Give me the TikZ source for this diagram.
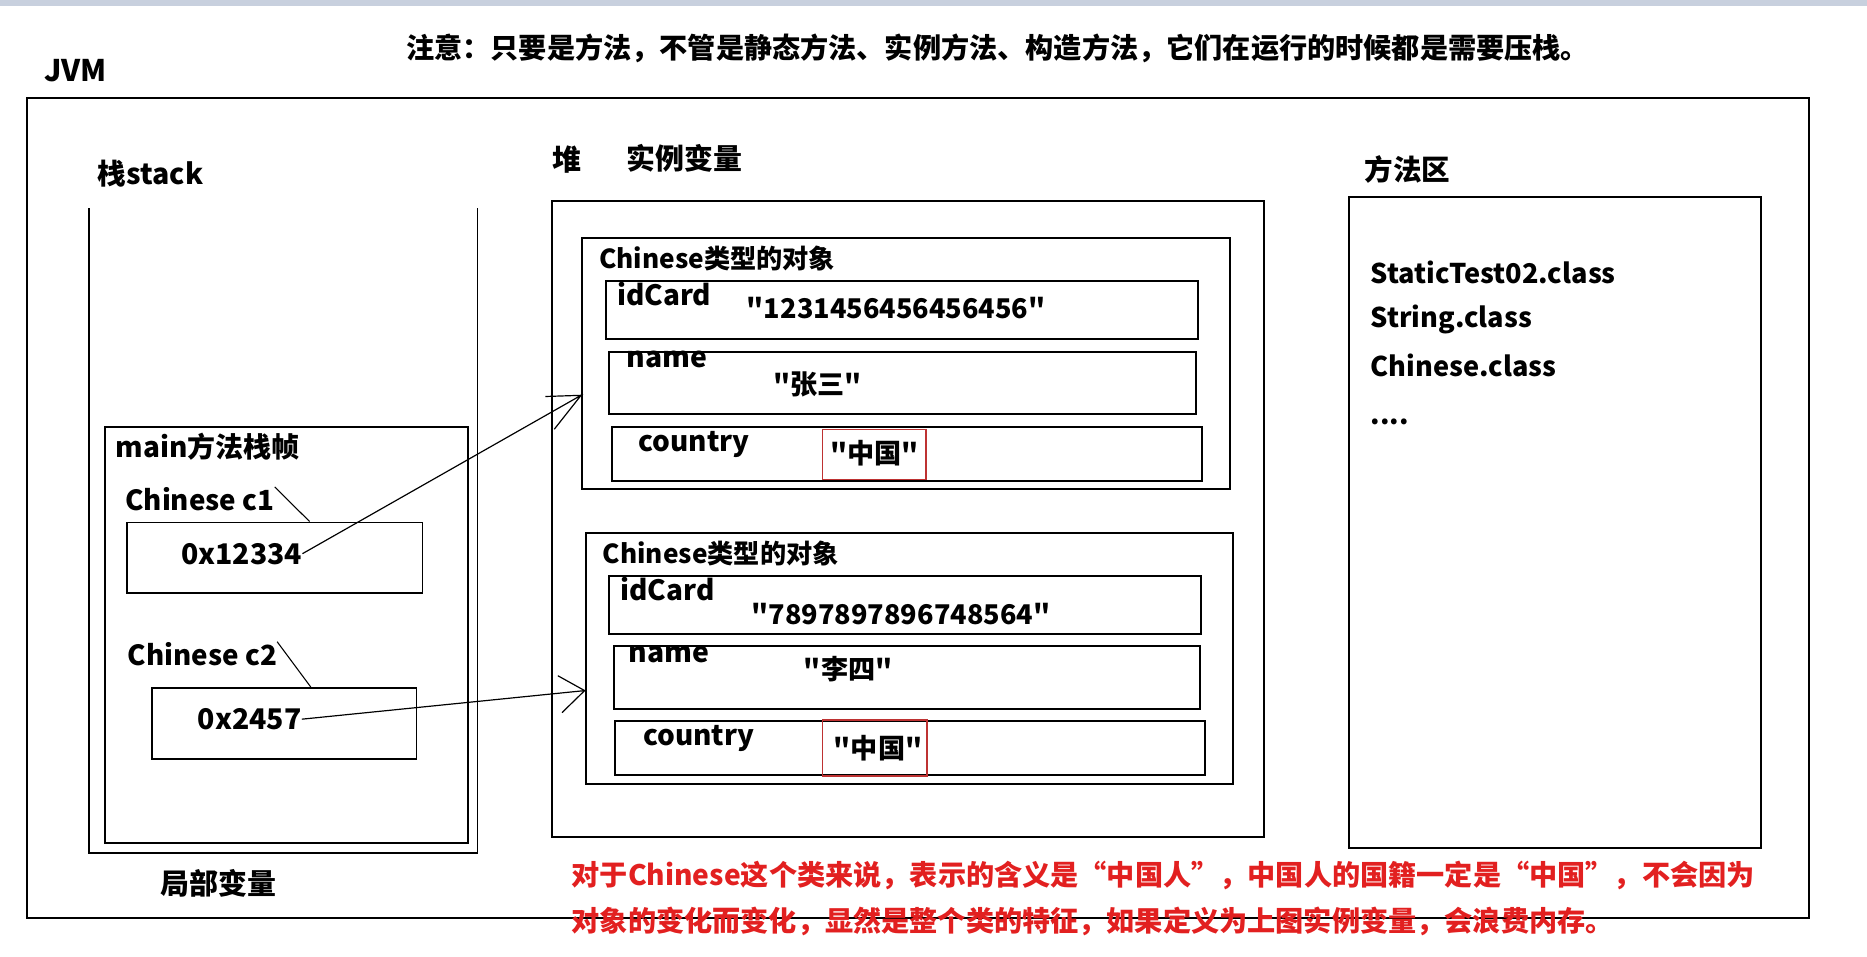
\documentclass[tikz,border=0pt]{standalone}
\usepackage{fontspec}
\newfontfamily\cjk{Noto Sans CJK SC}
\usetikzlibrary{arrows.meta,calc}
\definecolor{topbar}{RGB}{200,208,222}
\definecolor{redtxt}{RGB}{226,32,32}
\definecolor{redframe}{RGB}{190,50,50}
\tikzset{
  box/.style={draw, line width=1.6pt, inner sep=0pt, anchor=north west},
  rbox/.style={draw=redframe, line width=1.2pt, inner sep=0pt, anchor=north west},
  lbl/.style={inner sep=0pt, anchor=west, font=\cjk\bfseries\fontsize{#1}{#1}\selectfont},
  lbl/.default=23.5,
  val/.style={lbl=22.8},
  redlbl/.style={lbl=23.65, text=redtxt},
  ptr/.style={line width=1pt},
  thin/.style={line width=0.9pt}
}
\begin{document}
\begin{tikzpicture}[x=1pt,y=-1pt]
\useasboundingbox (0,0) rectangle (1568,803.7);
\fill[topbar] (0,0) rectangle (1568,5);
% title and JVM
\node[lbl=23.65] (title) at (341,41) {注意：只要是方法，不管是静态方法、实例方法、构造方法，它们在运行的时候都是需要压栈。};
\node[lbl=25] (jvmlbl) at (37,59) {JVM};
\node[box, minimum width=1497pt, minimum height=689pt] (jvm) at (21.5,81.5) {};
% stack
\node[lbl=24] (stacklbl) at (82,146) {栈stack};
\coordinate (stl) at (75,175);
\coordinate (str) at (401,175);
\draw[line width=1.6pt] (stl) -- (75,716) -- (401,716) -- (str);
\node[lbl=24.3] (locallbl) at (135,742) {局部变量};
\node[box, minimum width=305pt, minimum height=349pt] (frame) at (87.5,358) {};
\node[lbl] (framelbl) at (97,375) {main方法栈帧};
\node[lbl=23.3] (c1lbl) at (105,419) {Chinese c1};
\node[box, minimum width=248pt, minimum height=59pt] (c1box) at (106,438) {};
\node[lbl=23.9] (addr1) at (152,465) {0x12334};
\node[lbl=23.3] (c2lbl) at (107,549) {Chinese c2};
\node[box, minimum width=222pt, minimum height=60pt] (c2box) at (127,577) {};
\node[lbl=23.9] (addr2) at (166,604) {0x2457};
\draw[thin] (c1lbl.north east) -- ($(c1box.north west)+(154,0)$);
\draw[thin] (c2lbl.north east) -- ($(c2box.north west)+(134,0)$);
% heap
\node[lbl=24.3] (heaplbl) at (464,134) {堆};
\node[lbl=24.3] (instlbl) at (526,133) {实例变量};
\node[box, minimum width=598pt, minimum height=534pt] (heap) at (463,168) {};
% object 1
\node[box, minimum width=544pt, minimum height=211pt] (obj1) at (488,199) {};
\node[lbl=22] (obj1lbl) at (503,217) {Chinese类型的对象};
\node[box, minimum width=497pt, minimum height=49pt] (id1) at (508,235) {};
\node[lbl] (id1lbl) at (518,247) {idCard};
\node[val] (id1val) at (627,259) {"1231456456456456"};
\node[box, minimum width=493pt, minimum height=52pt] (name1) at (511,295) {};
\node[lbl=23.8] (name1lbl) at (526,302) {name};
\node[val] (name1val) at (649,323) {"张三"};
\node[box, minimum width=496pt, minimum height=45pt] (country1) at (513,358) {};
\node[lbl] (country1lbl) at (536,373) {country};
\node[rbox, minimum width=87pt, minimum height=42pt] (red1) at (690,360) {};
\node[val] (country1val) at (697,381) {"中国"};
% object 2
\node[box, minimum width=544pt, minimum height=211pt] (obj2) at (491,447) {};
\node[lbl=22] (obj2lbl) at (506,465) {Chinese类型的对象};
\node[box, minimum width=497pt, minimum height=49pt] (id2) at (511,483) {};
\node[lbl] (id2lbl) at (521,495) {idCard};
\node[val] (id2val) at (631,516) {"7897897896748564"};
\node[box, minimum width=492pt, minimum height=53pt] (name2) at (515,542) {};
\node[lbl=23.8] (name2lbl) at (528,550) {name};
\node[val] (name2val) at (675,562) {"李四"};
\node[box, minimum width=495pt, minimum height=45pt] (country2) at (516,605) {};
\node[lbl] (country2lbl) at (540,620) {country};
\node[rbox, minimum width=88pt, minimum height=47pt] (red2) at (690,604) {};
\node[val] (country2val) at (700,628) {"中国"};
% method area
\node[lbl=24] (methlbl) at (1146,142) {方法区};
\node[box, minimum width=346pt, minimum height=547pt] (meth) at (1132.5,164.5) {};
\node[lbl=22.8] (cls1) at (1151,229) {StaticTest02.class};
\node[lbl=22.8] (cls2) at (1151,268) {String.class};
\node[lbl=22.8] (cls3) at (1151,307) {Chinese.class};
\node[lbl=22.8] (cls4) at (1151,354) {....};
% pointers with hand-drawn barbs
\coordinate (tip1) at ($(obj1.north west)+(0,133)$);
\coordinate (tip2) at ($(obj2.north west)+(0,133)$);
\draw[ptr] (addr1.east) -- (tip1) -- ++(-30,1) (tip1) -- ++(-22.5,28.5);
\draw[ptr] (addr2.east) -- (tip2) -- ++(-22.5,-12.5) (tip2) -- ++(-19,18.5);
% red note
\node[redlbl] (note1) at (480,735) {对于Chinese这个类来说，表示的含义是“中国人”，中国人的国籍一定是“中国”，不会因为};
\node[redlbl] (note2) at (480,774) {对象的变化而变化，显然是整个类的特征，如果定义为上图实例变量，会浪费内存。};
\end{tikzpicture}
\end{document}
